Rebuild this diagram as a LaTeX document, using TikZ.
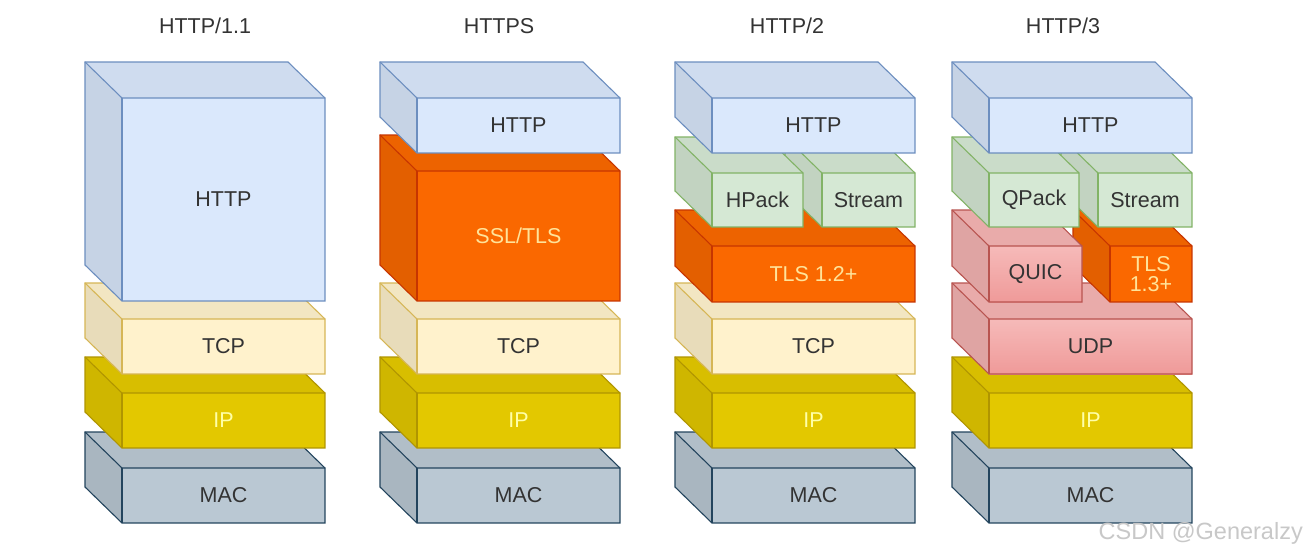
\documentclass[tikz,border=0pt]{standalone}
\usepackage{fontspec}
\setmainfont{Liberation Sans}
\definecolor{bluef}{HTML}{DAE8FC}\definecolor{blues}{HTML}{6C8EBF}
\definecolor{tcpf}{HTML}{FFF2CC}\definecolor{tcps}{HTML}{D6B656}
\definecolor{ipf}{HTML}{E3C800}\definecolor{ips}{HTML}{B09500}
\definecolor{macf}{HTML}{BAC8D3}\definecolor{macs}{HTML}{23445D}
\definecolor{orf}{HTML}{FA6800}\definecolor{ors}{HTML}{C73500}
\definecolor{grf}{HTML}{D5E8D4}\definecolor{grs}{HTML}{82B366}
\definecolor{rdf}{HTML}{F5B4B3}\definecolor{rds}{HTML}{B85450}
\definecolor{rdtop}{HTML}{F6BAB9}\definecolor{rdbot}{HTML}{EF9A99}
\definecolor{darktxt}{HTML}{333333}
\definecolor{paleY}{HTML}{FFFFA8}
\definecolor{paleO}{HTML}{FFE39A}
\definecolor{wm}{HTML}{C8C8C8}
\tikzset{
  fr bluef/.style={fill=bluef}, fr tcpf/.style={fill=tcpf}, fr ipf/.style={fill=ipf},
  fr macf/.style={fill=macf}, fr orf/.style={fill=orf}, fr grf/.style={fill=grf},
  fr rdf/.style={top color=rdtop,bottom color=rdbot}}
% #1 name, #2 x0, #3 y0, #4 x1, #5 y1, #6 fill, #7 stroke, #8 text colour, #9 text
\newcommand\drawcube[9]{%
  \fill[#6!91!black] (#2,#3) -- ({#2+37},{#3+36}) -- ({#2+37},#5) -- (#2,{#5-36}) -- cycle;
  \fill[#6!95!black] (#2,#3) -- ({#4-37},#3) -- (#4,{#3+36}) -- ({#2+37},{#3+36}) -- cycle;
  \fill[fr #6] ({#2+37},{#3+36}) rectangle (#4,#5);
  \draw[cubeline,#7] (#2,#3) -- ({#4-37},#3) -- (#4,{#3+36}) -- (#4,#5) -- ({#2+37},#5) -- (#2,{#5-36}) -- cycle;
  \draw[cubeline,#7] (#2,#3) -- ({#2+37},{#3+36}) -- (#4,{#3+36});
  \draw[cubeline,#7] ({#2+37},{#3+36}) -- ({#2+37},#5);
  \node[lbl,text=#8] (#1) at ({(#2+37+#4)/2},{(#3+36+#5)/2}) {#9};
}
\begin{document}
\begin{tikzpicture}[x=1pt,y=-1pt,
  cubeline/.style={line width=1.1pt,line join=miter},
  lbl/.style={font=\fontsize{21.5}{22}\selectfont,align=center,inner sep=0pt},
  ttl/.style={font=\fontsize{21.5}{22}\selectfont,text=darktxt,inner sep=0pt}]
\useasboundingbox (0,0) rectangle (1308,555);
\fill[white] (0,0) rectangle (1308,555);
% titles
\node[ttl] (t1) at (205,26) {HTTP/1.1};
\node[ttl] (t2) at (499,26) {HTTPS};
\node[ttl] (t3) at (787,26) {HTTP/2};
\node[ttl] (t4) at (1063,26) {HTTP/3};
% stack 1
\drawcube{mac1}{85}{432}{325}{523}{macf}{macs}{darktxt}{MAC}
\drawcube{ip1}{85}{357}{325}{448}{ipf}{ips}{paleY}{IP}
\drawcube{tcp1}{85}{283}{325}{374}{tcpf}{tcps}{darktxt}{TCP}
\drawcube{http1}{85}{62}{325}{301}{bluef}{blues}{darktxt}{HTTP}
% stack 2
\drawcube{mac2}{380}{432}{620}{523}{macf}{macs}{darktxt}{MAC}
\drawcube{ip2}{380}{357}{620}{448}{ipf}{ips}{paleY}{IP}
\drawcube{tcp2}{380}{283}{620}{374}{tcpf}{tcps}{darktxt}{TCP}
\drawcube{ssl2}{380}{135}{620}{301}{orf}{ors}{paleO}{SSL/TLS}
\drawcube{http2}{380}{62}{620}{153}{bluef}{blues}{darktxt}{HTTP}
% stack 3
\drawcube{mac3}{675}{432}{915}{523}{macf}{macs}{darktxt}{MAC}
\drawcube{ip3}{675}{357}{915}{448}{ipf}{ips}{paleY}{IP}
\drawcube{tcp3}{675}{283}{915}{374}{tcpf}{tcps}{darktxt}{TCP}
\drawcube{tls3}{675}{210}{915}{302}{orf}{ors}{paleO}{TLS 1.2+}
\drawcube{stream3}{785}{137}{915}{227}{grf}{grs}{darktxt}{Stream}
\drawcube{hpack3}{675}{137}{803}{227}{grf}{grs}{darktxt}{HPack}
\drawcube{http3}{675}{62}{915}{153}{bluef}{blues}{darktxt}{HTTP}
% stack 4
\drawcube{mac4}{952}{432}{1192}{523}{macf}{macs}{darktxt}{MAC}
\drawcube{ip4}{952}{357}{1192}{448}{ipf}{ips}{paleY}{IP}
\drawcube{udp4}{952}{283}{1192}{374}{rdf}{rds}{darktxt}{UDP}
\drawcube{tls4}{1073}{210}{1192}{302}{orf}{ors}{paleO}{TLS\\[-2pt]1.3+}
\drawcube{quic4}{952}{210}{1082}{302}{rdf}{rds}{darktxt}{QUIC}
\drawcube{stream4}{1061}{137}{1192}{227}{grf}{grs}{darktxt}{Stream}
\drawcube{qpack4}{952}{137}{1079}{227}{grf}{grs}{darktxt}{QPack}
\drawcube{http4}{952}{62}{1192}{153}{bluef}{blues}{darktxt}{HTTP}
% watermark
\node[font=\fontsize{23.5}{24}\selectfont,text=wm,inner sep=0pt,anchor=east] (wmk) at (1303,533) {CSDN @Generalzy};
\end{tikzpicture}
\end{document}
